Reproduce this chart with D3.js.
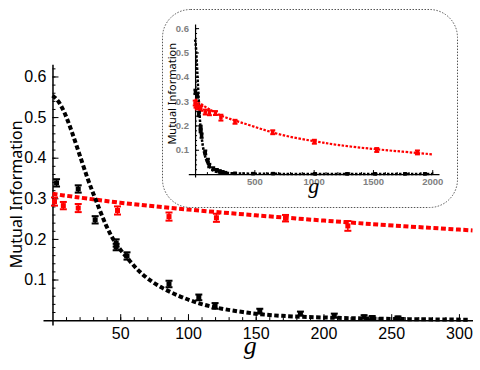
<!DOCTYPE html>
<html>
<head>
<meta charset="utf-8">
<script src="https://cdn.jsdelivr.net/npm/d3@7"></script>
<style>
  body { margin: 0; background: #fff; }
  svg { display: block; }
</style>
</head>
<body>
<div id="chart"></div>
<script>

// black series (main range) : g, value, error
var blackG   = [3, 19, 31.5, 47, 47, 55, 86, 108, 120, 153, 183, 208, 230, 236, 255];
var blackV   = [0.338, 0.323, 0.247, 0.190, 0.180, 0.158, 0.089, 0.056, 0.035, 0.022, 0.016, 0.011, 0.008, 0.006, 0.005];
var blackErr = [0.009, 0.009, 0.009, 0.009, 0.008, 0.009, 0.008, 0.007, 0.007, 0.006, 0.005, 0.005, 0.004, 0.004, 0.004];

// red series (main range)
var redG   = [1.5, 8, 19, 48, 86, 121, 172, 218];
var redV   = [0.292, 0.282, 0.276, 0.270, 0.255, 0.252, 0.251, 0.232];
var redErr = [0.010, 0.009, 0.010, 0.010, 0.010, 0.010, 0.008, 0.012];

// extra points only visible in the inset
var blackG2 = [337, 489, 658, 1012, 1282, 1518, 1771, 1939];
var blackV2 = [0.003, 0.002, 0.002, 0.001, 0.001, 0.001, 0.001, 0.001];
var redG2   = [337, 655, 1006, 1532, 1875];
var redV2   = [0.215, 0.172, 0.133, 0.099, 0.089];

// fitted curves
var blackFitG = [0, 4, 10, 18, 26, 32, 39.6, 47, 55.5, 64, 76.5, 93.7, 108, 120.7, 145, 167, 204, 241, 307];
var blackFitV = [0.553, 0.543, 0.506, 0.428, 0.346, 0.296, 0.230, 0.185, 0.152, 0.118, 0.086, 0.058, 0.041, 0.030, 0.017, 0.010, 0.006, 0.003, 0.001];
var redFitG   = [0, 50, 100, 150, 200, 250, 310];
var redFitV   = [0.311, 0.288, 0.272, 0.258, 0.245, 0.233, 0.221];
var blackFitG2 = [400, 1000, 2000];
var blackFitV2 = [0.001, 0.0005, 0.0003];
var redFitG2   = [500, 730, 1000, 1195, 1500, 1755, 2000];
var redFitV2   = [0.195, 0.158, 0.136, 0.119, 0.103, 0.092, 0.081];

var xTicks  = [50, 100, 150, 200, 250, 300];
var yTicks  = [0.1, 0.2, 0.3, 0.4, 0.5, 0.6];
var xTicksI = [500, 1000, 1500, 2000];

function zip(a, b, c) {
  return a.map(function(d, i) { return { g: d, v: b[i], e: c ? c[i] : 0.008 }; });
}

var width = 480, height = 370;
var svg = d3.select("#chart").append("svg")
    .attr("width", width)
    .attr("height", height);

// ---------- main plot ----------
var x = d3.scaleLinear().domain([-7, 310]).range([43, 472.5]);
var y = d3.scaleLinear().domain([-0.012, 0.63]).range([325, 64.3]);

var main = svg.append("g");

main.append("g")
    .attr("transform", "translate(0," + y(0) + ")")
    .call(d3.axisBottom(x).tickValues(d3.range(10, 310, 10)).tickSize(-3).tickFormat(""))
    .call(function(g) { g.select(".domain").remove(); });
main.append("g")
    .attr("transform", "translate(" + x(0) + ",0)")
    .call(d3.axisLeft(y).tickValues(d3.range(0.02, 0.63, 0.02)).tickSize(-3).tickFormat(""))
    .call(function(g) { g.select(".domain").remove(); });

var xAxis = main.append("g")
    .attr("transform", "translate(0," + y(0) + ")")
    .call(d3.axisBottom(x).tickValues(xTicks).tickSize(-6).tickSizeOuter(0).tickPadding(8));
var yAxis = main.append("g")
    .attr("transform", "translate(" + x(0) + ",0)")
    .call(d3.axisLeft(y).tickValues(yTicks).tickSize(-6).tickSizeOuter(0).tickPadding(6).tickFormat(d3.format(".1f")));

[xAxis, yAxis].forEach(function(a) {
  a.selectAll("text").attr("font-family", "Liberation Sans, Arial, sans-serif").attr("font-size", 16).attr("fill", "#000");
  a.select(".domain").attr("stroke-width", 1.5);
});
main.selectAll(".tick line").attr("stroke", "#000");

main.append("text")
    .attr("transform", "translate(22," + y(0.31) + ") rotate(-90)")
    .attr("text-anchor", "middle")
    .attr("font-family", "Noto Sans, sans-serif")
    .attr("font-size", 16)
    .text("Mutual Information");
main.append("text")
    .attr("x", x(146))
    .attr("y", 354)
    .attr("text-anchor", "middle")
    .attr("font-family", "Liberation Serif, serif")
    .attr("font-style", "italic")
    .attr("font-size", 26)
    .text("g");

var line = d3.line().x(function(d) { return x(d.g); }).y(function(d) { return y(d.v); }).curve(d3.curveBasis);

main.append("path")
    .datum(zip(redFitG, redFitV))
    .attr("d", line)
    .attr("fill", "none")
    .attr("stroke", "#ff0000")
    .attr("stroke-width", 4)
    .attr("stroke-dasharray", "5,2.5");
main.append("path")
    .datum(zip(blackFitG, blackFitV))
    .attr("d", line)
    .attr("fill", "none")
    .attr("stroke", "#000")
    .attr("stroke-width", 4)
    .attr("stroke-dasharray", "4.5,2.5");

function drawPoints(parent, data, xs, ys, color, cap, sq) {
  var pts = parent.append("g").selectAll("g").data(data).enter().append("g");
  pts.append("line")
      .attr("x1", function(d) { return xs(d.g); }).attr("x2", function(d) { return xs(d.g); })
      .attr("y1", function(d) { return ys(d.v - d.e); }).attr("y2", function(d) { return ys(d.v + d.e); })
      .attr("stroke", color).attr("stroke-width", 1.5);
  pts.append("line")
      .attr("x1", function(d) { return xs(d.g) - cap; }).attr("x2", function(d) { return xs(d.g) + cap; })
      .attr("y1", function(d) { return ys(d.v - d.e); }).attr("y2", function(d) { return ys(d.v - d.e); })
      .attr("stroke", color).attr("stroke-width", 2);
  pts.append("line")
      .attr("x1", function(d) { return xs(d.g) - cap; }).attr("x2", function(d) { return xs(d.g) + cap; })
      .attr("y1", function(d) { return ys(d.v + d.e); }).attr("y2", function(d) { return ys(d.v + d.e); })
      .attr("stroke", color).attr("stroke-width", 2);
  pts.append("rect")
      .attr("x", function(d) { return xs(d.g) - sq / 2; })
      .attr("y", function(d) { return ys(d.v) - sq / 2; })
      .attr("width", sq).attr("height", sq)
      .attr("fill", color);
}

drawPoints(main, zip(redG, redV, redErr), x, y, "#ff0000", 3.5, 5);
drawPoints(main, zip(blackG, blackV, blackErr), x, y, "#000", 3.5, 5);

// ---------- inset ----------
var inset = svg.append("g");
inset.append("rect")
    .attr("x", 162.5).attr("y", 9.5)
    .attr("width", 295).attr("height", 198)
    .attr("rx", 28).attr("ry", 28)
    .attr("fill", "#fff")
    .attr("stroke", "#555")
    .attr("stroke-width", 1)
    .attr("stroke-dasharray", "1.5,1.5");

var xi = d3.scaleLinear().domain([-57, 2057]).range([188.3, 439]);
var yi = d3.scaleLinear().domain([-0.012, 0.617]).range([177, 24]);

inset.append("g")
    .attr("transform", "translate(0," + yi(0) + ")")
    .call(d3.axisBottom(xi).tickValues(d3.range(100, 2050, 100)).tickSize(-2).tickFormat(""))
    .call(function(g) { g.select(".domain").remove(); });
inset.append("g")
    .attr("transform", "translate(" + xi(0) + ",0)")
    .call(d3.axisLeft(yi).tickValues(d3.range(0.02, 0.62, 0.02)).tickSize(-2).tickFormat(""))
    .call(function(g) { g.select(".domain").remove(); });

var xAxisI = inset.append("g")
    .attr("transform", "translate(0," + yi(0) + ")")
    .call(d3.axisBottom(xi).tickValues(xTicksI).tickSize(-4).tickSizeOuter(0).tickPadding(4).tickFormat(d3.format("d")));
var yAxisI = inset.append("g")
    .attr("transform", "translate(" + xi(0) + ",0)")
    .call(d3.axisLeft(yi).tickValues(yTicks).tickSize(-4).tickSizeOuter(0).tickPadding(6).tickFormat(d3.format(".1f")));

[xAxisI, yAxisI].forEach(function(a) {
  a.selectAll("text").attr("font-family", "Liberation Sans, Arial, sans-serif").attr("font-size", 9.5)
      .attr("font-weight", "bold").attr("fill", "#808080");
  a.select(".domain").attr("stroke-width", 1.2);
});
inset.selectAll(".tick line").attr("stroke", "#000");

inset.append("text")
    .attr("transform", "translate(176," + yi(0.33) + ") rotate(-90)")
    .attr("text-anchor", "middle")
    .attr("font-family", "Noto Sans, sans-serif")
    .attr("font-size", 11)
    .text("Mutual Information");
inset.append("text")
    .attr("x", xi(1000))
    .attr("y", 193)
    .attr("text-anchor", "middle")
    .attr("font-family", "Liberation Serif, serif")
    .attr("font-style", "italic")
    .attr("font-size", 22)
    .text("g");

var lineI = d3.line().x(function(d) { return xi(d.g); }).y(function(d) { return yi(d.v); }).curve(d3.curveBasis);

inset.append("path")
    .datum(zip(redFitG, redFitV).slice(0, 6).concat(zip(redFitG2, redFitV2)))
    .attr("d", lineI)
    .attr("fill", "none")
    .attr("stroke", "#ff0000")
    .attr("stroke-width", 2.2)
    .attr("stroke-dasharray", "2.5,1.5");
inset.append("path")
    .datum(zip(blackFitG, blackFitV).slice(0, 17).concat(zip(blackFitG2, blackFitV2)))
    .attr("d", lineI)
    .attr("fill", "none")
    .attr("stroke", "#000")
    .attr("stroke-width", 2.5)
    .attr("stroke-dasharray", "2.5,1.5");

drawPoints(inset, zip(redG, redV, redErr).concat(zip(redG2, redV2)), xi, yi, "#ff0000", 2.5, 3.5);
drawPoints(inset, zip(blackG, blackV, blackErr).concat(zip(blackG2, blackV2, blackV2.map(function() { return 0.002; }))), xi, yi, "#000", 2, 3.5);

</script>
</body>
</html>
